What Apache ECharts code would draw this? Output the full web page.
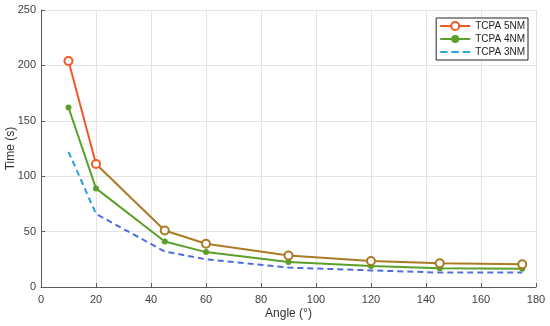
<!DOCTYPE html>
<html><head><meta charset="utf-8">
<script src="https://cdn.jsdelivr.net/npm/echarts@6/dist/echarts.min.js"></script>
<style>html,body{margin:0;padding:0;background:#fff}#c{width:550px;height:326px}</style>
</head><body><div id="c"></div>
<script>
const angles = [10, 20, 45, 60, 90, 120, 145, 175];
const tcpa5 = [204, 111, 51, 39, 28.5, 23.5, 21.5, 20.5];
const tcpa4 = [162, 89, 41, 31.5, 22.5, 19, 17, 16.5];
const tcpa3 = [122, 66, 32, 25, 17.5, 15, 13, 13];
const xTicks = [0, 20, 40, 60, 80, 100, 120, 140, 160, 180];
const yTicks = [0, 50, 100, 150, 200, 250];
const names = ['TCPA 5NM', 'TCPA 4NM', 'TCPA 3NM'];

const font = 'Liberation Sans, Arial, sans-serif';
const pair = arr => angles.map((a, i) => [a, arr[i]]);
const chart = echarts.init(document.getElementById('c'), null, {renderer: 'canvas'});
const axisCommon = {
  axisLine: {show: true, lineStyle: {color: '#5a5a5a', width: 1}},
  axisTick: {show: true, inside: true, length: 4, lineStyle: {color: '#5a5a5a'}},
  splitLine: {show: true, lineStyle: {color: '#e3e3e3', width: 1}},
  axisLabel: {color: '#404040', fontSize: 11, fontFamily: font},
  nameTextStyle: {color: '#303030', fontSize: 12, fontFamily: font},
  nameMoveOverlap: false
};
const dashIcon = 'path://M0,0h0.05v0.05h-0.05zM0,4h8v2h-8zM12,4h8v2h-8zM24,4h8v2h-8zM31.95,9.95h0.05v0.05h-0.05z';
chart.setOption({
  animation: false,
  backgroundColor: '#fff',
  grid: {left: 41, right: 14, top: 10, bottom: 39, containLabel: false, outerBoundsMode: 'none'},
  xAxis: Object.assign({}, axisCommon, {
    type: 'value', min: xTicks[0], max: xTicks[xTicks.length - 1], interval: 20,
    name: 'Angle (°)', nameLocation: 'middle', nameGap: 21,
    axisLabel: Object.assign({}, axisCommon.axisLabel, {margin: 7})
  }),
  yAxis: Object.assign({}, axisCommon, {
    type: 'value', min: yTicks[0], max: yTicks[yTicks.length - 1], interval: 50,
    name: 'Time (s)', nameLocation: 'middle', nameGap: 24,
    axisLabel: Object.assign({}, axisCommon.axisLabel, {margin: 5})
  }),
  legend: {
    right: 22, top: 18, orient: 'vertical',
    backgroundColor: '#fff', borderColor: '#222', borderWidth: 1,
    padding: [3, 3, 3, 3], itemGap: 3, itemWidth: 30, itemHeight: 10,
    textStyle: {fontSize: 10, fontFamily: font, color: '#222'},
    data: [{name: names[0]}, {name: names[1]},
      {name: names[2], icon: dashIcon, itemStyle: {color: '#2aa6e0'}}]
  },
  visualMap: [
    {type: 'piecewise', show: false, seriesIndex: 0, dimension: 0,
      pieces: [{min: -1000, max: 20, color: '#f05a24'}, {gt: 20, lte: 1000, color: '#aa7a24'}]},
    {type: 'piecewise', show: false, seriesIndex: 2, dimension: 0,
      pieces: [{min: -1000, max: 20, color: '#2a9fe0'}, {gt: 20, lte: 1000, color: '#4d6ee0'}]}
  ],
  series: [
    {name: names[0], type: 'line', data: pair(tcpa5), symbol: 'emptyCircle', symbolSize: 8,
      color: '#f05a24',
      lineStyle: {width: 2}, itemStyle: {borderWidth: 2}, z: 3},
    {name: names[1], type: 'line', data: pair(tcpa4), symbol: 'circle', symbolSize: 6,
      color: '#5aa02a',
      lineStyle: {width: 2, color: '#5aa02a'}, itemStyle: {color: '#5aa02a'}, z: 2},
    {name: names[2], type: 'line', data: pair(tcpa3), symbol: 'none',
      color: '#2a9fe0',
      lineStyle: {width: 2, type: [6, 4]}, z: 1}
  ]
});
</script></body></html>
